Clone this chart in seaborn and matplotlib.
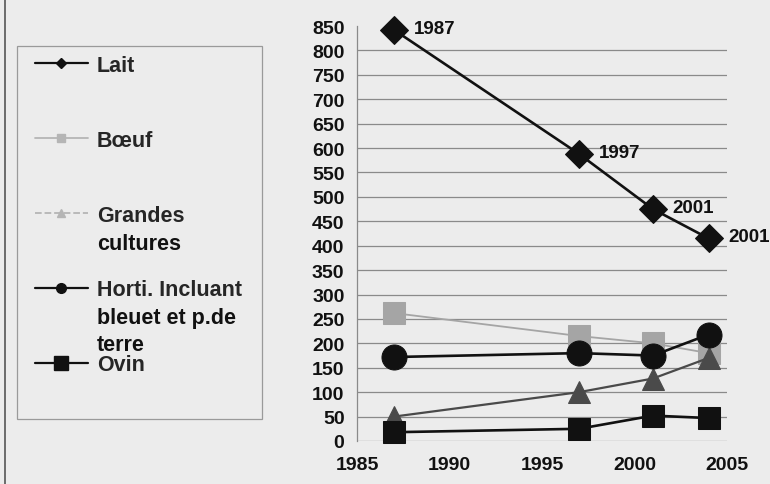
import matplotlib
matplotlib.use("Agg")
import matplotlib.pyplot as plt
import seaborn as sns
import pandas as pd
from matplotlib.lines import Line2D
from matplotlib.patches import Rectangle
from matplotlib.text import Annotation

sns.set_style("white")
plt.rcParams['font.family'] = ['Liberation Sans', 'DejaVu Sans']
plt.rcParams['font.weight'] = 'bold'

# data
years = [1987, 1997, 2001, 2004]
lait = [842, 588, 475, 415]
boeuf = [262, 215, 200, 180]
grandes_cultures = [50, 100, 128, 170]
horti = [172, 180, 175, 218]
ovin = [18, 25, 52, 47]
lait_point_labels = ["1987", "1997", "2001", "2001"]

# legend labels: first line goes in the legend, the rest hangs below it
legend_first = ["Lait", "Bœuf", "Grandes", "Horti. Incluant", "Ovin"]
legend_rest = ["", "", "cultures", "bleuet et p.de\nterre", ""]
y_ticks = list(range(0, 851, 50))
x_ticks = [1985, 1990, 1995, 2000, 2005]

bg = "#ececec"
ink = "#111111"
fig = plt.figure(figsize=(7.7, 4.85), dpi=100, facecolor=bg)
ax = fig.add_axes([357 / 770, 1 - 442 / 485, 370 / 770, 415 / 485])
ax.set_facecolor(bg)

df = pd.DataFrame({"annee": years, "Lait": lait, "Boeuf": boeuf,
                   "Grandes": grandes_cultures, "Horti": horti, "Ovin": ovin})

styles = [
    ("Boeuf", dict(color="#a5a5a5", marker="s", markersize=16, linewidth=1.3)),
    ("Grandes", dict(color="#4a4a4a", marker="^", markersize=16, linewidth=1.6)),
    ("Horti", dict(color=ink, marker="o", markersize=18, linewidth=1.9)),
    ("Ovin", dict(color=ink, marker="s", markersize=16, linewidth=1.9)),
    ("Lait", dict(color=ink, marker="D", markersize=14, linewidth=1.9)),
]
for col, st in styles:
    sns.lineplot(data=df, x="annee", y=col, ax=ax, legend=False,
                 markeredgecolor=st["color"], clip_on=False, **st)

for yr, val, txt in zip(years, lait, lait_point_labels):
    ax.annotate(txt, (yr, val), xytext=(14, 1), textcoords="offset points",
                fontsize=13.5, fontweight="bold", color=ink, va="center",
                annotation_clip=False)

ax.set_xlim(1985, 2005)
ax.set_ylim(0, 850)
ax.set_xticks(x_ticks)
ax.set_yticks(y_ticks)
ax.set_xlabel("")
ax.set_ylabel("")
ax.grid(axis="y", color="#8a8a8a", linewidth=0.9)
ax.grid(axis="x", visible=False)
ax.yaxis.get_gridlines()[-1].set_visible(False)
for s in ["top", "right", "bottom"]:
    ax.spines[s].set_visible(False)
ax.spines["left"].set_color("#8a8a8a")
ax.spines["left"].set_linewidth(0.9)
ax.tick_params(axis="both", length=0, labelsize=14, colors=ink)
ax.tick_params(axis="y", pad=9)
ax.tick_params(axis="x", pad=11)
for t in ax.get_xticklabels() + ax.get_yticklabels():
    t.set_fontweight("bold")

handles = [
    Line2D([], [], color=ink, marker="D", markersize=5, linewidth=1.6),
    Line2D([], [], color="#b5b5b5", marker="s", markersize=6, linewidth=1.3),
    Line2D([], [], color="#b5b5b5", marker="^", markersize=6, linewidth=1.3,
           linestyle="--"),
    Line2D([], [], color=ink, marker="o", markersize=7, linewidth=1.6),
    Line2D([], [], color=ink, marker="s", markersize=10, linewidth=1.6),
]
leg = fig.legend(handles, legend_first, loc="upper left",
                 bbox_to_anchor=(35 / 770, 1 - 56 / 485),
                 frameon=False, borderpad=0, borderaxespad=0, handlelength=2.45,
                 handletextpad=0.42, labelspacing=2.5,
                 prop={"weight": "bold", "size": 15.5})

# continuation lines of the multi-line legend labels
for txt_obj, rest in zip(leg.get_texts(), legend_rest):
    if rest:
        fig.add_artist(Annotation(rest, xy=(0, 0), xycoords=txt_obj,
                                  xytext=(0, -5), textcoords="offset points",
                                  ha="left", va="top", fontsize=15.5,
                                  fontweight="bold", color=ink,
                                  linespacing=1.35, zorder=10))

fig.add_artist(Rectangle((17 / 770, 1 - 420 / 485), 245 / 770, 373 / 485,
                         transform=fig.transFigure, fill=False,
                         edgecolor="#9a9a9a", linewidth=0.9))
fig.add_artist(Line2D([5 / 770, 5 / 770], [0, 1], transform=fig.transFigure,
                      color="#555555", linewidth=1.2))

fig.savefig("out.png", dpi=100, facecolor=bg)
